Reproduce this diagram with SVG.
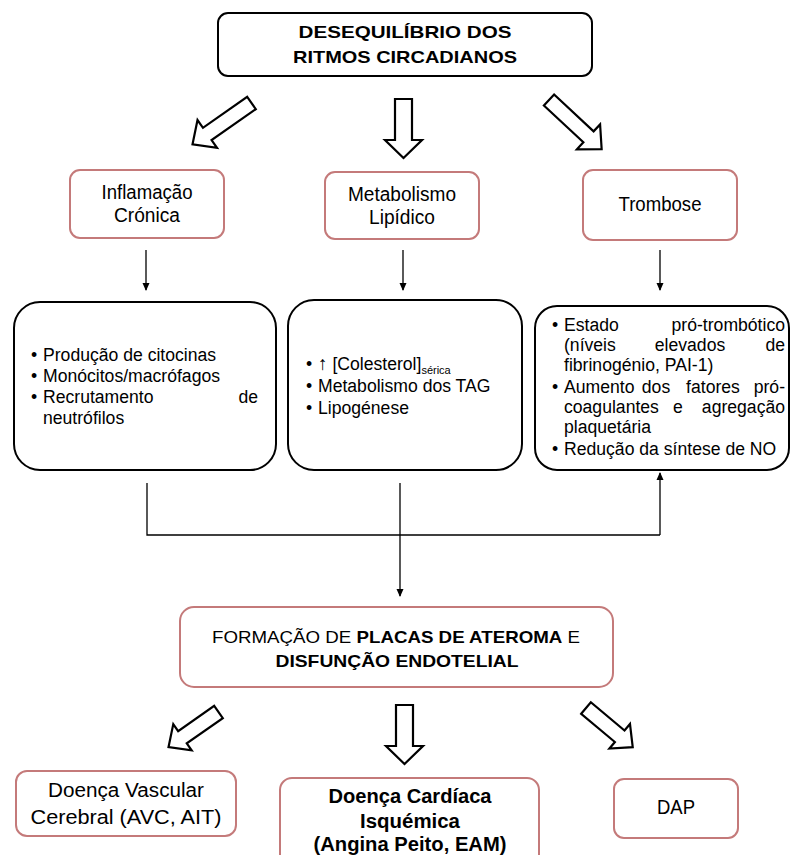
<svg xmlns="http://www.w3.org/2000/svg" width="794" height="855" viewBox="0 0 794 855">
<style>
text{font-family:"Liberation Sans",Arial,sans-serif;fill:#000}
.t{font-size:17px;text-anchor:middle}
.b{font-weight:bold}
.lab{font-size:19.5px;text-anchor:middle}
.body{font-size:17.6px}
.pink{fill:#fff;stroke:#c47a7a;stroke-width:2}
.blk{fill:#fff;stroke:#000;stroke-width:2}
.blockarrow{fill:#fff;stroke:#000;stroke-width:2.2;stroke-linejoin:miter}
.conn{fill:none;stroke:#000;stroke-width:1.3}
</style>
<defs>
<marker id="ah" markerWidth="8" markerHeight="8" refX="7" refY="4" orient="auto" markerUnits="userSpaceOnUse">
<path d="M0,0.5 L8,4 L0,7.5 Z" fill="#000"/>
</marker>
<path id="arrDown" d="M-8.5,0 H8.5 V41 H18.5 L0,59 L-18.5,41 H-8.5 Z"/>
<path id="arrDiag" d="M-7.5,0 H7.5 V54 H17 L0,72 L-17,54 H-7.5 Z"/>
<path id="arrDiagS" d="M-7.5,0 H7.5 V44 H16 L0,61 L-16,44 H-7.5 Z"/>
</defs>
<rect width="794" height="855" fill="#fff"/>

<g id="top">
<rect class="blk" x="218" y="13" width="374" height="63" rx="10"/>
<text class="t b" x="405" y="38" font-size="17.5" textLength="213" lengthAdjust="spacingAndGlyphs">DESEQUILÍBRIO  DOS</text>
<text class="t b" x="405" y="63" font-size="17.5" textLength="224" lengthAdjust="spacingAndGlyphs">RITMOS CIRCADIANOS</text>
</g>

<g id="block-arrows">
<use href="#arrDiag" class="blockarrow" transform="translate(251.5,103) rotate(55)"/>
<use href="#arrDown" class="blockarrow" transform="translate(403.5,99)"/>
<use href="#arrDiag" class="blockarrow" transform="translate(549,100) rotate(-47)"/>
<use href="#arrDiagS" class="blockarrow" transform="translate(218.5,712) rotate(55)"/>
<use href="#arrDown" class="blockarrow" transform="translate(404.5,705)"/>
<use href="#arrDiagS" class="blockarrow" transform="translate(586,708) rotate(-50)"/>
</g>

<g id="inflamacao">
<rect class="pink" x="70" y="170" width="154" height="68" rx="10"/>
<text class="lab" x="147" y="199" textLength="91" lengthAdjust="spacingAndGlyphs">Inflamação</text>
<text class="lab" x="147" y="222" textLength="66" lengthAdjust="spacingAndGlyphs">Crónica</text>
</g>
<g id="metabolismo">
<rect class="pink" x="325" y="172" width="154" height="67" rx="10"/>
<text class="lab" x="402" y="201" textLength="108" lengthAdjust="spacingAndGlyphs">Metabolismo</text>
<text class="lab" x="402" y="224" textLength="66" lengthAdjust="spacingAndGlyphs">Lipídico</text>
</g>
<g id="trombose">
<rect class="pink" x="583" y="170" width="154" height="70" rx="10"/>
<text class="lab" x="660" y="211" textLength="83" lengthAdjust="spacingAndGlyphs">Trombose</text>
</g>

<g id="inflamacao-detail">
<rect class="blk" x="14" y="302" width="262" height="168" rx="26"/>
<text class="body" x="31" y="361">•</text><text class="body" x="43" y="361">Produção de citocinas</text>
<text class="body" x="31" y="382">•</text><text class="body" x="43" y="382">Monócitos/macrófagos</text>
<text class="body" x="31" y="403">•</text><text class="body" x="43" y="403">Recrutamento</text><text class="body" x="258" y="403" text-anchor="end">de</text>
<text class="body" x="43" y="424">neutrófilos</text>
</g>

<g id="metabolismo-detail">
<rect class="blk" x="288" y="300" width="234" height="170" rx="26"/>
<text class="body" x="306" y="370">•</text><text class="body" x="318" y="370"><tspan font-size="19">↑</tspan> [Colesterol]<tspan font-size="11" dy="4">sérica</tspan></text>
<text class="body" x="306" y="392">•</text><text class="body" x="318" y="392">Metabolismo dos TAG</text>
<text class="body" x="306" y="414">•</text><text class="body" x="318" y="414">Lipogénese</text>
</g>

<g id="trombose-detail">
<rect class="blk" x="535" y="306" width="254" height="164" rx="22"/>
<text class="body" x="552" y="331">•</text><text class="body" x="564" y="331">Estado</text><text class="body" x="785" y="331" text-anchor="end">pró-trombótico</text>
<text class="body" x="564" y="351">(níveis</text><text class="body" x="690" y="351" text-anchor="middle">elevados</text><text class="body" x="785" y="351" text-anchor="end">de</text>
<text class="body" x="564" y="371">fibrinogénio, PAI-1)</text>
<text class="body" x="552" y="393">•</text><text class="body" x="564" y="393">Aumento</text><text class="body" x="656" y="393" text-anchor="middle">dos</text><text class="body" x="713" y="393" text-anchor="middle">fatores</text><text class="body" x="785" y="393" text-anchor="end">pró-</text>
<text class="body" x="564" y="413">coagulantes</text><text class="body" x="678" y="413" text-anchor="middle">e</text><text class="body" x="785" y="413" text-anchor="end">agregação</text>
<text class="body" x="564" y="433">plaquetária</text>
<text class="body" x="552" y="455">•</text><text class="body" x="564" y="455">Redução da síntese de NO</text>
</g>

<g id="formacao">
<rect class="pink" x="180" y="607" width="433" height="80" rx="14"/>
<text class="t" x="396" y="643" font-size="19" textLength="368" lengthAdjust="spacingAndGlyphs"><tspan>FORMAÇÃO DE </tspan><tspan class="b">PLACAS DE ATEROMA</tspan><tspan> E</tspan></text>
<text class="t b" x="397" y="667" font-size="19" textLength="243" lengthAdjust="spacingAndGlyphs">DISFUNÇÃO ENDOTELIAL</text>
</g>

<g id="dvc">
<rect class="pink" x="16" y="771" width="220" height="65" rx="11"/>
<text class="lab" x="126" y="797" textLength="156" lengthAdjust="spacingAndGlyphs">Doença Vascular</text>
<text class="lab" x="126" y="824" textLength="191" lengthAdjust="spacingAndGlyphs">Cerebral (AVC, AIT)</text>
</g>
<g id="dci">
<rect class="pink" x="280" y="778" width="259" height="90" rx="12"/>
<text class="lab b" x="410" y="803" textLength="163" lengthAdjust="spacingAndGlyphs">Doença Cardíaca</text>
<text class="lab b" x="410" y="828" textLength="100" lengthAdjust="spacingAndGlyphs">Isquémica</text>
<text class="lab b" x="410" y="851" textLength="193" lengthAdjust="spacingAndGlyphs">(Angina Peito, EAM)</text>
</g>
<g id="dap">
<rect class="pink" x="614" y="779" width="124" height="59" rx="10"/>
<text class="lab" x="676" y="814" textLength="38" lengthAdjust="spacingAndGlyphs">DAP</text>
</g>

<g id="connectors">
<line class="conn" x1="146" y1="250" x2="146" y2="290" marker-end="url(#ah)"/>
<line class="conn" x1="403" y1="250" x2="403" y2="290" marker-end="url(#ah)"/>
<line class="conn" x1="660" y1="250" x2="660" y2="290" marker-end="url(#ah)"/>
<polyline class="conn" points="147,483 147,535 660,535"/>
<line class="conn" x1="660" y1="535" x2="660" y2="473" stroke="#808080" marker-end="url(#ah)"/>
<line class="conn" x1="400" y1="483" x2="400" y2="596" marker-end="url(#ah)"/>
</g>
</svg>
